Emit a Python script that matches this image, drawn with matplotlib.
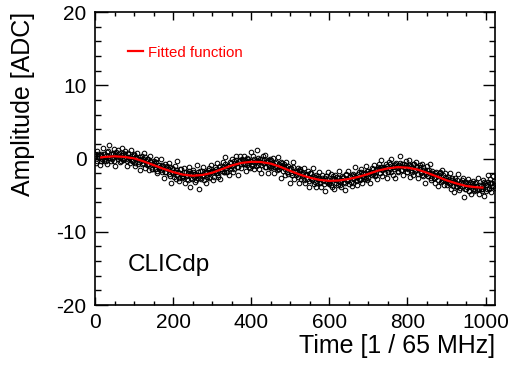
import numpy as np
import matplotlib
matplotlib.use("Agg")
import matplotlib.pyplot as plt
from matplotlib.ticker import MultipleLocator

plt.rcParams["font.family"] = ["Liberation Sans", "DejaVu Sans"]
plt.rcParams["axes.unicode_minus"] = False

# sample times: two interleaved read-outs, every 3 clock ticks each
time_a = np.arange(0, 1024, 3)
time_b = np.arange(1, 1024, 3)

amplitude_a = [
    0.6, -0.6, 1.0, 0.4, -0.9, 0.6, -0.1, 1.4, -0.3, 0.3, -0.7, 1.0, 1.8, 0.1, -0.3, 0.6, 1.3, -1.0, 0.9, 0.2, 1.1, -0.5, 0.5, 1.5, -0.2,
    -0.1, 1.0, -1.0, 0.6, 0.2, -0.6, 1.2, -0.4, 0.6, -1.0, 0.2, 0.8, -0.7, -1.6, -0.1, 0.4, -0.6, 0.8, -1.3, 0.0, -0.7, -1.6, 0.3, -0.5, -1.4,
    -0.3, -1.4, 0.0, -2.0, -0.9, -1.3, 0.0, -1.9, -1.0, -2.6, -0.7, -1.9, -1.5, -0.6, -2.4, -3.3, -1.3, -2.1, -1.0, -2.8, -0.4, -1.8, -3.1, -1.5, -2.7,
    -2.4, -1.3, -3.4, -1.8, -2.9, -1.1, -3.9, -2.0, -2.8, -1.6, -3.2, -2.2, -0.9, -2.6, -4.1, -1.7, -2.4, -1.2, -2.9, -1.8, -3.3, -1.9, -1.3, -2.5, -0.9,
    -1.7, -2.9, -1.1, -2.0, -0.6, -2.5, -1.2, -2.8, -1.4, -0.5, -1.9, 0.2, -1.8, -1.0, -2.2, -0.5, -1.3, -0.1, -1.8, -0.4, 0.4, -1.2, -2.2, -0.4, 0.3,
    -1.3, -0.2, 0.4, -0.8, -1.7, 0.1, -0.4, -1.3, 0.9, -1.0, 0.3, -1.5, -0.3, 1.1, -0.9, -1.4, 0.0, -2.0, 0.3, -0.6, 0.5, -1.2, -0.3, -2.0, -0.1,
    -0.2, -1.0, 0.1, -2.0, -0.6, -1.6, 0.2, -1.5, -1.0, -2.6, -0.6, -1.1, -2.2, -0.5, -1.8, -1.0, -3.4, -1.3, -2.3, -0.5, -2.8, -1.8, -2.1, -1.3, -3.3,
    -1.4, -2.8, -2.1, -1.3, -3.4, -2.1, -2.8, -1.7, -3.9, -2.0, -2.8, -1.3, -3.5, -2.5, -3.9, -2.4, -1.9, -3.3, -3.9, -2.3, -2.9, -4.5, -2.4, -3.2, -1.8,
    -3.5, -2.1, -3.9, -2.7, -4.2, -2.3, -2.9, -3.6, -1.7, -3.2, -3.9, -2.4, -2.7, -4.3, -2.1, -3.1, -1.7, -3.5, -2.4, -3.7, -2.1, -2.7, -1.1, -3.1, -3.6,
    -1.9, -2.8, -1.5, -3.4, -2.1, -2.8, -1.0, -3.0, -1.7, -2.0, -3.3, -1.3, -2.1, -0.9, -2.4, -1.4, -2.8, -0.8, -2.0, -0.2, -2.4, -1.3, -1.5, -0.8, -2.6,
    -1.9, -0.5, -1.4, -0.1, -2.2, -0.9, -2.6, -0.6, -1.0, -1.9, 0.4, -1.6, -0.7, -2.2, -1.1, -0.3, -1.8, -1.5, -0.2, -2.5, -1.0, -2.2, -0.7, -1.7, -0.5,
    -1.1, -2.7, -0.9, -1.9, -0.7, -2.4, -1.6, -3.4, -1.0, -2.4, -2.0, -0.8, -3.0, -1.7, -2.6, -3.4, -1.8, -2.2, -3.7, -1.8, -3.2, -1.6, -2.9, -3.6, -2.0,
    -3.6, -2.5, -3.3, -2.0, -4.1, -2.9, -4.6, -2.6, -3.3, -3.9, -2.1, -4.3, -3.4, -3.7, -2.7, -5.3, -3.3, -4.1, -2.8, -4.5, -3.2, -4.9, -3.7, -3.1, -4.3,
    -3.2, -4.3, -2.7, -4.9, -3.7, -4.1, -3.0, -5.1, -3.3, -4.4, -2.3, -4.0, -2.8, -4.6, -3.3, -2.4, -4.0,
]
amplitude_b = [
    0.3, -0.3, 0.6, 0.1, 0.5, -0.4, 0.3, 0.6, -0.1, -0.3, 0.9, 0.3, 0.1, 0.6, -0.1, 0.8, -0.3, 0.5, 0.4, 0.0, 0.7, 0.2, -0.3, 0.5, 0.8,
    0.6, -0.1, -0.3, 0.8, 0.1, -0.1, 0.4, -0.4, 0.5, -0.6, 0.1, 0.0, -0.5, 0.2, -0.4, -0.8, -0.1, 0.2, -0.3, -0.9, -0.1, -0.8, -0.4, -1.4, -0.7,
    -0.6, -1.4, -0.5, -1.7, -0.9, -1.1, -1.6, -0.9, -1.5, -1.9, -1.2, -1.0, -1.4, -2.1, -1.2, -1.9, -1.5, -2.5, -1.8, -1.6, -2.3, -2.6, -1.5, -2.1, -2.4,
    -2.5, -1.8, -2.4, -2.8, -2.0, -1.7, -2.1, -2.7, -1.9, -2.5, -2.1, -2.9, -2.2, -1.9, -2.6, -2.8, -1.7, -2.2, -2.4, -1.9, -2.5, -1.6, -2.6, -1.8, -1.9,
    -1.7, -2.5, -1.7, -1.4, -2.0, -2.2, -1.0, -1.5, -1.7, -1.1, -1.8, -0.8, -1.8, -1.0, -1.0, -1.4, -0.6, -1.0, -1.4, -0.6, -0.2, -0.6, -1.1, -0.2, -0.7,
    0.0, -0.6, -0.8, -0.2, -0.9, 0.0, -1.1, -0.3, -0.4, -0.8, -0.1, -0.6, -1.0, -0.2, 0.1, -0.3, -0.9, 0.0, -0.6, -0.2, -1.2, -0.5, -0.2, -1.0, -1.2,
    -1.3, -0.6, -0.7, -1.2, -0.5, -1.1, -1.5, -0.8, -0.5, -1.0, -1.7, -0.8, -1.5, -1.2, -2.1, -1.5, -1.3, -2.0, -2.3, -1.2, -1.9, -2.2, -1.7, -2.5, -1.6,
    -1.7, -2.4, -2.0, -3.0, -2.3, -2.1, -2.8, -3.1, -2.0, -2.6, -2.9, -2.4, -3.2, -2.3, -3.4, -2.7, -2.8, -3.2, -2.6, -3.1, -3.5, -2.7, -2.4, -2.8, -3.4,
    -3.2, -3.6, -2.8, -2.4, -2.8, -3.4, -2.5, -3.1, -2.7, -3.6, -2.9, -2.5, -3.2, -3.4, -2.3, -2.8, -3.0, -2.5, -3.2, -2.2, -3.3, -2.4, -2.5, -2.9, -2.1,
    -2.8, -3.0, -1.8, -2.4, -2.5, -2.0, -2.6, -1.7, -2.7, -1.9, -1.9, -2.3, -1.5, -2.0, -2.3, -1.4, -1.1, -1.4, -2.0, -1.1, -1.6, -1.2, -2.0, -1.3, -1.0,
    -1.8, -0.8, -1.9, -1.1, -1.2, -1.5, -0.8, -1.3, -1.7, -0.9, -0.6, -1.0, -1.6, -0.7, -1.3, -0.9, -1.8, -1.2, -0.9, -1.6, -1.9, -0.8, -1.4, -1.6, -1.2,
    -2.1, -1.5, -1.2, -2.0, -2.2, -1.2, -1.8, -2.1, -1.6, -2.4, -1.6, -2.7, -2.0, -2.1, -2.6, -2.0, -2.5, -3.0, -2.2, -2.0, -2.5, -3.1, -2.3, -3.0, -2.6,
    -3.0, -3.2, -2.8, -3.5, -2.7, -3.8, -3.1, -3.2, -3.7, -3.0, -3.6, -4.0, -3.2, -3.0, -3.4, -4.1, -3.2, -3.9, -3.5, -4.4, -3.7, -3.4, -4.2, -4.4, -3.3,
    -3.7, -3.8, -4.2, -3.6, -4.1, -4.5, -3.6, -3.2, -3.6, -4.2, -3.2, -4.2, -3.4, -3.4, -3.8, -3.1,
]

# fitted function
fit_time = [16, 25, 50, 75, 100, 125, 150, 175, 200, 225, 250, 275, 300, 325, 350,
            375, 400, 425, 450, 475, 500, 525, 550, 575, 600, 625, 650, 675, 700,
            725, 750, 775, 800, 825, 850, 875, 900, 925, 950, 975, 992]
fit_adc = [0.15, 0.22, 0.3, 0.22, 0.02, -0.4, -0.9, -1.4, -1.85, -2.2, -2.35, -2.25,
           -1.95, -1.45, -0.95, -0.6, -0.45, -0.48, -0.7, -1.15, -1.7, -2.2, -2.62,
           -2.92, -3.05, -3.0, -2.8, -2.5, -2.1, -1.65, -1.35, -1.18, -1.25, -1.5,
           -1.95, -2.45, -2.98, -3.4, -3.75, -3.92, -3.97]

fig = plt.figure(figsize=(5.12, 3.67), dpi=100)
ax = fig.add_axes([0.1855, 0.1689, 0.78125, 0.7984])

for t, a in ((time_a, amplitude_a), (time_b, amplitude_b)):
    ax.plot(t, a, ls="none", marker="o", ms=3.3, mfc="none", mec="black", mew=0.75)
ax.plot(fit_time, fit_adc, color="red", lw=1.6, label="Fitted function")

ax.set_xlim(0, 1024)
ax.set_ylim(-20, 20)
ax.xaxis.set_major_locator(MultipleLocator(200))
ax.xaxis.set_minor_locator(MultipleLocator(50))
ax.yaxis.set_major_locator(MultipleLocator(10))
ax.yaxis.set_minor_locator(MultipleLocator(2))
ax.tick_params(which="both", direction="in", top=True, right=True, labelsize=15)
ax.tick_params(axis="x", which="major", length=5.8, width=1.0, pad=6)
ax.tick_params(axis="x", which="minor", length=2.9, width=1.0)
ax.tick_params(axis="y", which="major", length=9, width=1.0, pad=6)
ax.tick_params(axis="y", which="minor", length=4.3, width=1.0)
for sp in ax.spines.values():
    sp.set_linewidth(1.2)

ax.set_xlabel("Time [1 / 65 MHz]", fontsize=18, loc="right", labelpad=1)
ax.set_ylabel("Amplitude [ADC]", fontsize=18, loc="top")
ax.yaxis.set_label_coords(-0.15, 1.0)

ax.text(0.0825, 0.117, "CLICdp", transform=ax.transAxes, fontsize=17.5,
        va="baseline", ha="left")

ax.legend(loc="center left", bbox_to_anchor=(0.0825, 0.861), frameon=False,
          fontsize=10.8, handlelength=0.98, handletextpad=0.33, borderpad=0,
          borderaxespad=0, labelcolor="red")

fig.savefig("out.png", dpi=100)
